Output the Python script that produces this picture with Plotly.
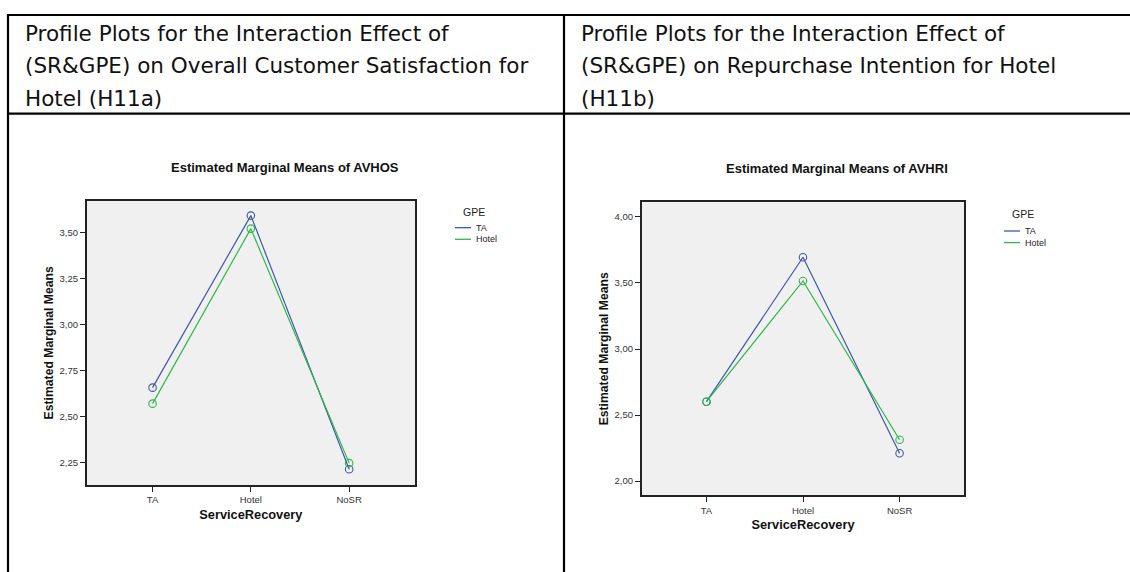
import plotly.graph_objects as go

# ---- data -------------------------------------------------------------
service_recovery = ["TA", "Hotel", "NoSR"]
gpe_groups = ["TA", "Hotel"]

# Estimated marginal means of AVHOS (overall customer satisfaction)
avhos_ta = [2.656, 3.593, 2.212]
avhos_hotel = [2.569, 3.522, 2.245]

# Estimated marginal means of AVHRI (repurchase intention)
avhri_ta = [2.601, 3.695, 2.210]
avhri_hotel = [2.601, 3.515, 2.313]

header_left = [
    "Profile Plots for the Interaction Effect of",
    "(SR&GPE) on Overall Customer Satisfaction for",
    "Hotel (H11a)",
]
header_right = [
    "Profile Plots for the Interaction Effect of",
    "(SR&GPE) on Repurchase Intention for Hotel",
    "(H11b)",
]
chart_titles = ["Estimated Marginal Means of AVHOS", "Estimated Marginal Means of AVHRI"]

# ---- styling ----------------------------------------------------------
W, H = 1130, 572
COLORS = {"TA": "#3E58AC", "Hotel": "#2EB848"}
ARIAL = "Liberation Sans, Arial, sans-serif"
AXIS_COLOR = "#222222"


def fx(p):
    return p / W


def fy(p):
    return 1 - p / H


fig = go.Figure()

panels = [
    dict(xa="x", ya="y", series=[avhos_ta, avhos_hotel],
         xdom=(86.7, 415.0), ydom=(200.7, 485.0),
         yrange=(2.126, 3.674), dtick=0.25,
         title=chart_titles[0], title_pos=(285, 167),
         legend_pos=(455, 474, 211.7, 227.7)),
    dict(xa="x2", ya="y2", series=[avhri_ta, avhri_hotel],
         xdom=(641.7, 964.3), ydom=(202.3, 495.3),
         yrange=(1.892, 4.111), dtick=0.5,
         title=chart_titles[1], title_pos=(837, 168),
         legend_pos=(1004, 1023, 214, 231)),
]

shapes = []
annotations = []

for i, p in enumerate(panels):
    for name, values in zip(gpe_groups, p["series"]):
        fig.add_trace(go.Scatter(
            x=service_recovery, y=values, name=name,
            mode="lines+markers", xaxis=p["xa"], yaxis=p["ya"],
            line=dict(color=COLORS[name], width=1.2),
            marker=dict(symbol="circle-open", size=7.5,
                        line=dict(color=COLORS[name], width=1.1)),
            showlegend=False,
        ))

    suffix = "" if i == 0 else "2"
    axis_common = dict(
        showline=True, linecolor=AXIS_COLOR, linewidth=1.6, mirror=True,
        ticks="outside", ticklen=5, tickwidth=1, tickcolor=AXIS_COLOR,
        tickfont=dict(family=ARIAL, size=9.5, color="#333333"),
        showgrid=False, zeroline=False,
    )
    fig.update_layout(**{
        "xaxis" + suffix: dict(
            axis_common,
            domain=[fx(p["xdom"][0]), fx(p["xdom"][1])],
            anchor="y" + suffix, type="category",
            range=[-0.67, 2.67],
            title=dict(text="ServiceRecovery", standoff=6,
                       font=dict(family=ARIAL, size=12.8, color="#111111", weight="bold")),
        ),
        "yaxis" + suffix: dict(
            axis_common,
            domain=[fy(p["ydom"][1]), fy(p["ydom"][0])],
            anchor="x" + suffix, range=list(p["yrange"]),
            dtick=p["dtick"], tick0=0, tickformat=".2f",
            title=dict(text="Estimated Marginal Means", standoff=3,
                       font=dict(family=ARIAL, size=12.2, color="#111111", weight="bold")),
        ),
    })

    # chart title
    annotations.append(dict(
        text=p["title"], x=fx(p["title_pos"][0]), y=fy(p["title_pos"][1]),
        xref="paper", yref="paper", xanchor="center", yanchor="middle",
        showarrow=False, font=dict(family=ARIAL, size=13, color="#111111", weight="bold"),
    ))

    # legend: title plus a short line per group
    lx0, title_cx, title_cy, item_y0 = p["legend_pos"]
    annotations.append(dict(
        text="GPE", x=fx(title_cx), y=fy(title_cy), xref="paper", yref="paper",
        xanchor="center", yanchor="middle", showarrow=False,
        font=dict(family=ARIAL, size=10.5, color="#222222"),
    ))
    for k, name in enumerate(gpe_groups):
        iy = item_y0 + k * 11.6
        shapes.append(dict(
            type="line", xref="paper", yref="paper",
            x0=fx(lx0), x1=fx(lx0 + 16), y0=fy(iy), y1=fy(iy),
            line=dict(color=COLORS[name], width=1.3),
        ))
        annotations.append(dict(
            text=name, x=fx(lx0 + 18.5), y=fy(iy), xref="paper", yref="paper",
            xanchor="left", yanchor="middle", showarrow=False,
            font=dict(family=ARIAL, size=9, color="#222222"),
        ))

# ---- surrounding table ------------------------------------------------
TABLE_LINE = dict(color="#000000", width=2.2)
shapes += [
    dict(type="line", xref="paper", yref="paper", x0=fx(7), x1=fx(W + 5), y0=fy(15), y1=fy(15), line=TABLE_LINE),
    dict(type="line", xref="paper", yref="paper", x0=fx(7), x1=fx(W + 5), y0=fy(113.7), y1=fy(113.7), line=TABLE_LINE),
    dict(type="line", xref="paper", yref="paper", x0=fx(8), x1=fx(8), y0=fy(14), y1=fy(H + 5), line=TABLE_LINE),
    dict(type="line", xref="paper", yref="paper", x0=fx(564), x1=fx(564), y0=fy(14), y1=fy(H + 5), line=TABLE_LINE),
]

HEADER_FONT = dict(family="DejaVu Sans, Open Sans, sans-serif", size=21.5, color="#111111")
for x0, lines in ((23, header_left), (579, header_right)):
    for k, line in enumerate(lines):
        annotations.append(dict(
            text=line, x=fx(x0), y=fy(33 + k * 32.5), xref="paper", yref="paper",
            xanchor="left", yanchor="middle", showarrow=False, font=HEADER_FONT,
        ))

fig.update_layout(
    width=W, height=H,
    margin=dict(l=0, r=0, t=0, b=0),
    paper_bgcolor="white", plot_bgcolor="#F0F0F0",
    separators=",.",
    showlegend=False,
    shapes=shapes, annotations=annotations,
)

fig.write_html("out.html")
